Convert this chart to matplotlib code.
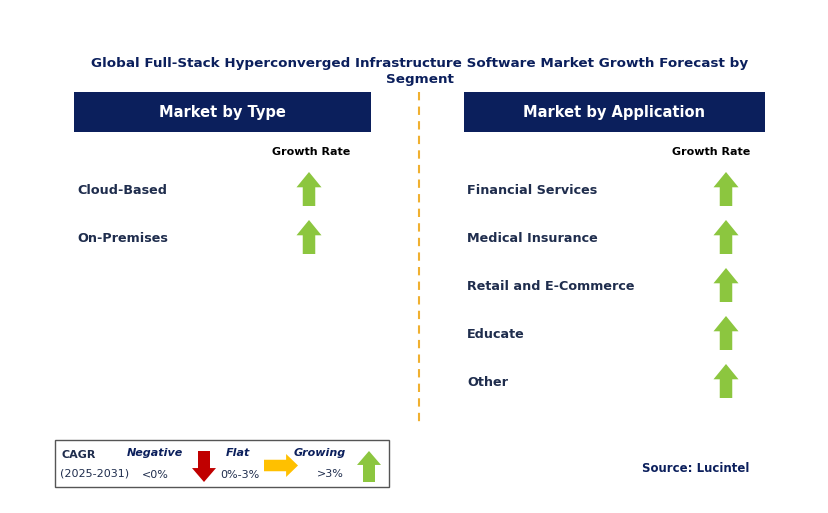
import matplotlib.pyplot as plt
from matplotlib.patches import Polygon, Rectangle

TITLE = ("Global Full-Stack Hyperconverged Infrastructure Software Market Growth Forecast by\n"
         "Segment")
type_labels = ["Cloud-Based", "On-Premises"]
type_trend = ["up", "up"]
app_labels = ["Financial Services", "Medical Insurance", "Retail and E-Commerce", "Educate", "Other"]
app_trend = ["up", "up", "up", "up", "up"]

NAVY = "#0b1f5c"
GREEN = "#8cc63f"
RED = "#c00000"
ORANGE = "#ffc000"
TXT = "#1f2d4d"

W, H = 829, 513
fig = plt.figure(figsize=(W / 100, H / 100), dpi=100)
ax = fig.add_axes([0, 0, 1, 1])
ax.set_xlim(0, W)
ax.set_ylim(H, 0)
ax.axis("off")


def arrow(cx, top, bottom, width, color, direction="up"):
    shaft = width * 0.5
    head = (bottom - top) * 0.45
    if direction == "up":
        pts = [(cx, top), (cx + width / 2, top + head), (cx + shaft / 2, top + head),
               (cx + shaft / 2, bottom), (cx - shaft / 2, bottom), (cx - shaft / 2, top + head),
               (cx - width / 2, top + head)]
    elif direction == "down":
        pts = [(cx, bottom), (cx + width / 2, bottom - head), (cx + shaft / 2, bottom - head),
               (cx + shaft / 2, top), (cx - shaft / 2, top), (cx - shaft / 2, bottom - head),
               (cx - width / 2, bottom - head)]
    else:  # right: cx = left, top/bottom = vertical span, width = length
        h = bottom - top
        mid = (top + bottom) / 2
        hl = width * 0.35
        pts = [(cx + width, mid), (cx + width - hl, top), (cx + width - hl, mid - h * 0.25),
               (cx, mid - h * 0.25), (cx, mid + h * 0.25), (cx + width - hl, mid + h * 0.25),
               (cx + width - hl, bottom)]
    ax.add_patch(Polygon(pts, closed=True, color=color, lw=0))


ax.text(420, 71, TITLE, ha="center", va="center", fontsize=9.7, fontweight="bold",
        color=NAVY, linespacing=1.3)

# headers
for x0, x1, label in [(74, 371, "Market by Type"), (464, 765, "Market by Application")]:
    ax.add_patch(Rectangle((x0, 92), x1 - x0, 40, color=NAVY, lw=0))
    ax.text((x0 + x1) / 2, 112, label, ha="center", va="center", fontsize=10.5,
            fontweight="bold", color="white")

ax.plot([419, 419], [92, 425], color="#f0b030", lw=1.5, ls=(0, (4, 3)))

ax.text(311, 152, "Growth Rate", ha="center", va="center", fontsize=8, fontweight="bold", color="black")
ax.text(711, 152, "Growth Rate", ha="center", va="center", fontsize=8, fontweight="bold", color="black")

for i, (lab, tr) in enumerate(zip(type_labels, type_trend)):
    y = 190 + 48 * i
    ax.text(77, y, lab, ha="left", va="center", fontsize=9.2, fontweight="bold", color=TXT)
    arrow(309, y - 18, y + 16, 25, GREEN, tr)

for i, (lab, tr) in enumerate(zip(app_labels, app_trend)):
    y = 190 + 48 * i
    ax.text(467, y, lab, ha="left", va="center", fontsize=9.2, fontweight="bold", color=TXT)
    arrow(726, y - 18, y + 16, 25, GREEN, tr)

# legend box
ax.add_patch(Rectangle((55, 440), 334, 47, fill=False, ec="#555555", lw=1))
ax.text(62, 455, "CAGR", ha="left", va="center", fontsize=8, fontweight="bold", color=TXT)
ax.text(60, 474, "(2025-2031)", ha="left", va="center", fontsize=8, color=TXT)
ax.text(155, 453, "Negative", ha="center", va="center", fontsize=8, fontweight="bold",
        style="italic", color=NAVY)
ax.text(155, 475, "<0%", ha="center", va="center", fontsize=8, color=TXT)
arrow(204, 451, 482, 24, RED, "down")
ax.text(238, 453, "Flat", ha="center", va="center", fontsize=8, fontweight="bold",
        style="italic", color=NAVY)
ax.text(240, 475, "0%-3%", ha="center", va="center", fontsize=8, color=TXT)
arrow(264, 454, 477, 34, ORANGE, "right")
ax.text(320, 453, "Growing", ha="center", va="center", fontsize=8, fontweight="bold",
        style="italic", color=NAVY)
ax.text(330, 474, ">3%", ha="center", va="center", fontsize=8, color=TXT)
arrow(369, 451, 482, 24, GREEN, "up")

ax.text(749, 469, "Source: Lucintel", ha="right", va="center", fontsize=8.5, fontweight="bold", color=NAVY)

fig.savefig("out.png", dpi=100, facecolor="white")
